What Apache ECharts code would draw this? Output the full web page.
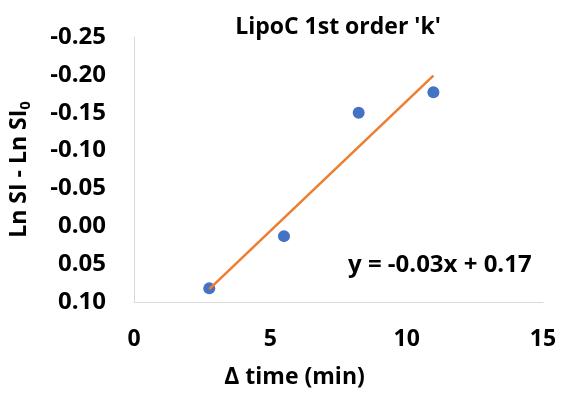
<!DOCTYPE html>
<html>
<head>
<meta charset="utf-8">
<title>LipoC 1st order 'k'</title>
<script src="https://cdn.jsdelivr.net/npm/echarts@6/dist/echarts.min.js"></script>
<style>
  html, body { margin: 0; padding: 0; background: #fff; }
  #chart { width: 563px; height: 403px; }
</style>
</head>
<body>
<div id="chart"></div>
<script>
const timeMin = [2.76, 5.5, 8.24, 10.98]
const lnRatio = [0.082, 0.013, -0.150, -0.177]
const yTicks = [-0.25, 0.10, 0.05]  // min, max, step
const xTicks = [0, 15, 5]

// least squares trend line, like the spreadsheet one
function fit (xs, ys) {
  const n = xs.length
  const mx = xs.reduce((a, b) => a + b, 0) / n
  const my = ys.reduce((a, b) => a + b, 0) / n
  let sxy = 0
  let sxx = 0
  for (let i = 0; i < n; i++) {
    sxy += (xs[i] - mx) * (ys[i] - my)
    sxx += (xs[i] - mx) * (xs[i] - mx)
  }
  const k = sxy / sxx
  return { k: k, b: my - k * mx }
}
const tr = fit(timeMin, lnRatio)
const xFirst = timeMin[0]
const xLast = timeMin[timeMin.length - 1]
const trendData = [[xFirst, tr.k * xFirst + tr.b], [xLast, tr.k * xLast + tr.b]]

const font = '"Open Sans", sans-serif'
const chart = echarts.init(document.getElementById('chart'))
chart.setOption({
  animation: false,
  title: {
    text: "LipoC 1st order 'k'",
    left: 333,
    textAlign: 'center',
    top: 11,
    textStyle: { fontFamily: font, fontWeight: 'bold', fontSize: 23, color: '#000' }
  },
  grid: { left: 133, right: 20, top: 37, bottom: 101 },
  xAxis: {
    type: 'value',
    min: xTicks[0],
    max: xTicks[1],
    interval: xTicks[2],
    name: 'Δ time (min)',
    nameLocation: 'middle',
    nameGap: 64,
    nameTextStyle: { fontFamily: font, fontWeight: 'bold', fontSize: 23, color: '#000', padding: [0, 88, 0, 0] },
    axisLine: { onZero: false, lineStyle: { color: '#d9d9d9', width: 1 } },
    axisTick: { show: false },
    splitLine: { show: false },
    axisLabel: { fontFamily: font, fontWeight: 'bold', fontSize: 23, color: '#000', margin: 26 }
  },
  yAxis: {
    type: 'value',
    inverse: true,
    min: yTicks[0],
    max: yTicks[1],
    interval: yTicks[2],
    name: '{a|Ln SI - Ln SI}{s|0}',
    nameLocation: 'middle',
    nameGap: 101,
    nameRotate: 90,
    nameTextStyle: {
      rich: {
        a: { fontFamily: font, fontWeight: 'bold', fontSize: 23, color: '#000' },
        s: { fontFamily: font, fontWeight: 'bold', fontSize: 15, color: '#000', verticalAlign: 'bottom', padding: [12, 0, 0, 0] }
      }
    },
    axisLine: { show: true, lineStyle: { color: '#d9d9d9', width: 1 } },
    axisTick: { show: false },
    splitLine: { show: false },
    axisLabel: {
      fontFamily: font, fontWeight: 'bold', fontSize: 24, color: '#000', margin: 28,
      formatter: v => v.toFixed(2)
    }
  },
  graphic: [{
    type: 'text',
    left: 348,
    top: 253,
    style: {
      text: 'y = -0.03x + 0.17',
      font: 'bold 24px ' + font,
      fill: '#000'
    }
  }],
  series: [
    {
      type: 'scatter',
      data: timeMin.map((x, i) => [x, lnRatio[i]]),
      symbolSize: 12,
      itemStyle: { color: '#4472C4', opacity: 1 },
      z: 2
    },
    {
      type: 'line',
      data: trendData,
      symbol: 'none',
      lineStyle: { color: '#ED7D31', width: 2.5 },
      z: 3
    }
  ]
})
</script>
</body>
</html>
